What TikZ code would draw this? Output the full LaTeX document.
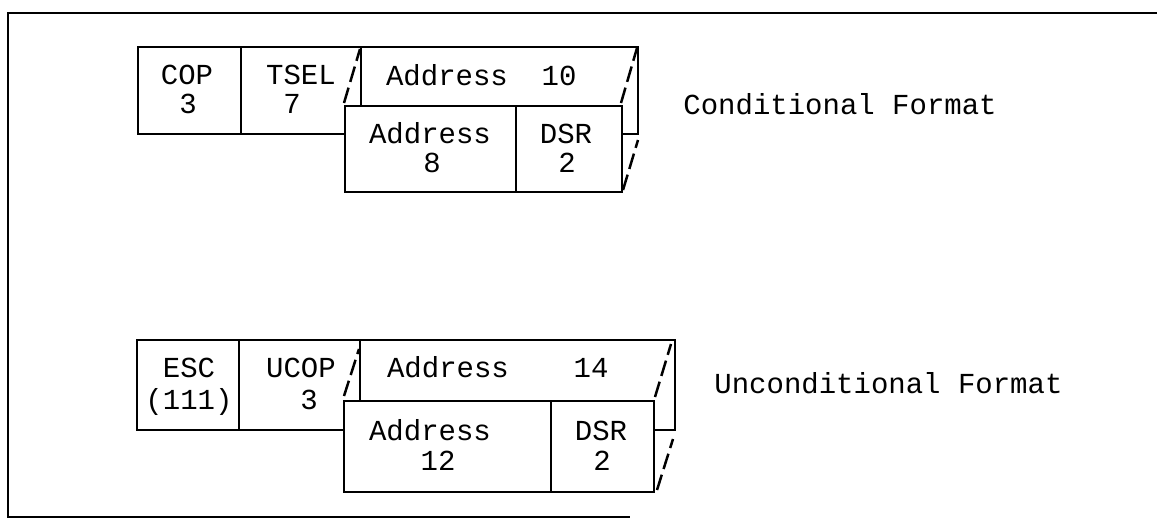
\documentclass[tikz,border=0pt]{standalone}
\usepackage{fontspec}
\setmonofont{Liberation Mono}
\begin{document}
\begin{tikzpicture}[x=1pt,y=-1pt, line width=2.8pt, line join=miter,
  txt/.style={font=\fontsize{29}{29}\selectfont\ttfamily, inner sep=0pt, anchor=base},
  lbl/.style={txt, anchor=base west},
  cut/.style={line width=2.5pt, dash pattern=on 16pt off 6pt, line cap=butt},
  frame/.style={line width=2.9pt}]
\useasboundingbox (0,0) rectangle (1157,523);
% outer frame
\coordinate (f1) at (1157,13);
\coordinate (f2) at (8,13);
\coordinate (f3) at (8,517);
\coordinate (f4) at (630,517);
\draw[frame] (f1) -- (f2) -- (f3) -- (f4);

% ---------------- Conditional format
\draw (138,47) rectangle (638,134);
\draw (241,47) -- (241,134);
\draw (361,47) -- (361,106);
\filldraw[fill=white] (345,106) rectangle (622,192);
\draw (516,106) -- (516,192);
\draw[cut] (344,103) -- (360,49);
\draw[cut] (621,103) -- (637,48);
\draw[cut] (623,190) -- (638,140);

\node[txt] (cop)   at (187,84)  {COP};
\node[txt] (cop3)  at (188,113) {3};
\node[txt] (tsel)  at (301,84)  {TSEL};
\node[txt] (tsel7) at (292,113) {7};
\node[txt] (ca10)  at (447,85)  {Address};
\node[txt] (c10)   at (559,85)  {10};
\node[txt] (ca8)   at (430,143) {Address};
\node[txt] (c8)    at (432,172) {8};
\node[txt] (cdsr)  at (566,143) {DSR};
\node[txt] (cdsr2) at (567,172) {2};
\node[lbl] (cond)  at (682,114) {Conditional Format};

% ---------------- Unconditional format
\draw (137,340) rectangle (675,430);
\draw (239,340) -- (239,430);
\draw (360,340) -- (360,401);
\filldraw[fill=white] (344,401) rectangle (654,492);
\draw (551,401) -- (551,492);
\draw[cut] (344,396) -- (359,349);
\draw[cut] (655,397) -- (671,344);
\draw[cut] (657,490) -- (673,439);

\node[txt] (esc)   at (189,377) {ESC};
\node[txt] (esc1)  at (189,409) {(111)};
\node[txt] (ucop)  at (301,377) {UCOP};
\node[txt] (ucop3) at (309,409) {3};
\node[txt] (ua14)  at (448,377) {Address};
\node[txt] (u14)   at (591,377) {14};
\node[txt] (ua12)  at (430,440) {Address};
\node[txt] (u12)   at (438,470) {12};
\node[txt] (udsr)  at (601,440) {DSR};
\node[txt] (udsr2) at (602,470) {2};
\node[lbl] (uncond) at (713,393) {Unconditional Format};
\end{tikzpicture}
\end{document}
